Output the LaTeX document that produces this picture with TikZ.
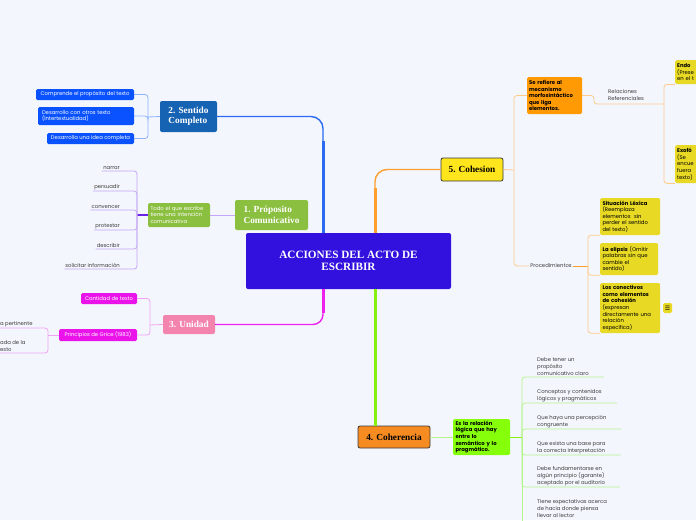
\documentclass[tikz,border=0pt]{standalone}
\usepackage{fontspec}
\setmainfont{Liberation Serif}
\newfontfamily\popfont{Poppins}
\newfontfamily\symfont{DejaVu Sans}
\usetikzlibrary{calc}

\definecolor{bgcol}{HTML}{F3F6FD}
\definecolor{ctrblue}{HTML}{3210DE}
\definecolor{sentblue}{HTML}{1763B3}
\definecolor{boxblue}{HTML}{0A52FF}
\definecolor{bluelink}{HTML}{2B6BF2}
\definecolor{lblue}{HTML}{8FB2FF}
\definecolor{propgreen}{HTML}{8BBF40}
\definecolor{lpurple}{HTML}{C4A6F7}
\definecolor{dpurple}{HTML}{6A22E6}
\definecolor{pinkbox}{HTML}{F384AD}
\definecolor{magbox}{HTML}{EA14EA}
\definecolor{maglink}{HTML}{EE22EE}
\definecolor{lmag}{HTML}{F2A2F2}
\definecolor{cohyellow}{HTML}{FFE51C}
\definecolor{darkline}{HTML}{3A3A3A}
\definecolor{orangebox}{HTML}{FF9A05}
\definecolor{orlink}{HTML}{FF9F2E}
\definecolor{lorange}{HTML}{FFCB8A}
\definecolor{yellowbox}{HTML}{E8DA24}
\definecolor{coherorange}{HTML}{F68B22}
\definecolor{limebox}{HTML}{86FF0A}
\definecolor{limelink}{HTML}{88F010}
\definecolor{llime}{HTML}{B5F58A}
\definecolor{leafgray}{HTML}{3C3C3C}

\tikzset{
  topic/.style={rounded corners=2pt, font=\bfseries\fontsize{9.3}{10.5}\selectfont,
    text=white, align=left, inner sep=0pt},
  subbox/.style={rounded corners=1.5pt, font=\popfont\fontsize{5.3}{6.6}\selectfont,
    align=left, inner sep=0pt},
  leaf/.style={font=\popfont\fontsize{5.3}{7}\selectfont, text=leafgray,
    align=left, inner sep=1pt},
  thin link/.style={line width=0.8pt, rounded corners=3pt}
}

\begin{document}
\begin{tikzpicture}[x=1pt,y=-1pt]
\useasboundingbox (0,0) rectangle (696,520);
\fill[bgcol] (0,0) rectangle (696,520);

% centro
\node[topic, fill=ctrblue, minimum width=205pt, minimum height=56pt, align=center,
  font=\bfseries\fontsize{11.2}{12.5}\selectfont] (ctr) at (348.5,261)
  {ACCIONES DEL ACTO DE\\ESCRIBIR};

% 2. Sentido Completo
\node[topic, fill=sentblue, minimum width=57pt, minimum height=31pt] (sent) at (188.5,116.5)
  {2. Sentido\\Completo};
\draw[bluelink, line width=1.4pt, rounded corners=12pt] ([xshift=-25.5pt]ctr.north) |- (sent.east);
\draw[bluelink, line width=3pt] ([xshift=-25.5pt]ctr.north) -- ++(0,-92);
\node[subbox, fill=boxblue, text=white, minimum width=98pt, minimum height=11pt] (comp) at (85,94.5)
  {Comprende el propósito del texto};
\node[subbox, fill=boxblue, text=white, minimum width=96pt, minimum height=18pt, text width=88pt] (desa) at (86,116)
  {Desarrollo con otros texto\\(Intertextualidad)};
\node[subbox, fill=boxblue, text=white, minimum width=87pt, minimum height=11pt] (idea) at (90.5,138.5)
  {Desarrolla una idea completa};
\coordinate (senthub) at (148,117);
\draw[lblue, thin link] (sent.west) -- (senthub);
\foreach \n in {comp,desa,idea}
  \draw[lblue, thin link] (senthub) |- (\n.east);

% 1. Proposito Comunicativo
\node[topic, fill=propgreen, minimum width=73pt, minimum height=30pt] (prop) at (271.5,215)
  {1. Próposito\\Comunicativo};
\node[subbox, fill=propgreen, text=white, minimum width=62pt, minimum height=24pt, text width=57pt] (todo) at (179,215)
  {Todo el que escribe\\tiene una intención\\comunicativa};
\draw[lpurple, line width=1pt] (prop.west) -- (todo.east);
\coordinate (prophub) at (137,215);
\draw[dpurple, line width=1.3pt] (todo.west) -- (prophub);
\node[leaf, anchor=south east] (narrar) at (121,171) {narrar};
\node[leaf, anchor=south east] (persu) at (121,191) {persuadir};
\node[leaf, anchor=south east] (conv) at (121,210) {convencer};
\node[leaf, anchor=south east] (prot) at (121,230) {protestar};
\node[leaf, anchor=south east] (desc) at (121,249) {describir};
\node[leaf, anchor=south east] (soli) at (121,269) {solicitar información};
\foreach \n in {narrar,persu,conv,prot,desc,soli}
  \draw[lpurple, thin link] (prophub) -- ([xshift=16pt]\n.south east) -- (\n.south west);

% 3. Unidad
\node[topic, fill=pinkbox, minimum width=52pt, minimum height=19pt] (unid) at (189,324.5) {3. Unidad};
\draw[maglink, line width=1.4pt, rounded corners=10pt] ([xshift=-25.5pt]ctr.south) |- (unid.east);
\draw[maglink, line width=3pt] ([xshift=-25.5pt]ctr.south) -- ++(0,24);
\node[subbox, fill=magbox, text=white, minimum width=56pt, minimum height=11pt] (cant) at (109,298.5)
  {Cantidad de texto};
\node[subbox, fill=magbox, text=white, minimum width=78pt, minimum height=12pt] (grice) at (98,335)
  {Principios de Grice (1983)};
\coordinate (unidhub) at (150,325);
\draw[lmag, thin link] (unid.west) -- (unidhub);
\foreach \n in {cant,grice}
  \draw[lmag, thin link] (unidhub) |- (\n.east);
\coordinate (gricehub) at (48,335);
\draw[lmag, thin link] (grice.west) -- (gricehub);
\node[leaf, anchor=south west] (gr1) at (-1,328) {a pertinente};
\node[leaf, anchor=south west] (gr2) at (-1,353) {ada de la\\esto};
\foreach \n in {gr1,gr2}
  \draw[lmag, thin link] (gricehub) |- (\n.south west);

% 5. Cohesion
\node[topic, fill=cohyellow, draw=darkline, line width=0.8pt, text=black, minimum width=62pt, minimum height=23pt,
  align=center] (coh) at (472,169.5) {5. Cohesion};
\draw[orlink, line width=1.4pt, rounded corners=12pt] ([xshift=26.5pt]ctr.north) |- (coh.west);
\draw[orlink, line width=3pt] ([xshift=26.5pt]ctr.north) -- ++(0,-45);
\coordinate (cohhub) at (514,170);
\draw[lorange, thin link] (coh.east) -- (cohhub);
\node[subbox, fill=orangebox, font=\popfont\bfseries\fontsize{5.3}{6.6}\selectfont, minimum width=55pt,
  minimum height=37pt, text width=51pt] (sere) at (554.5,95.5)
  {Se refiere al\\mecanismo\\morfosintáctico\\que liga\\elementos.};
\draw[lorange, thin link] (cohhub) |- (sere.west);
\node[leaf, anchor=south west] (rela) at (607,102) {Relaciones\\Referenciales};
\coordinate (relahub) at (664,104);
\draw[lorange, thin link] (sere.east) -- (594,95.5) -- (594,104) -- (relahub);
\node[subbox, fill=yellowbox, anchor=north west, minimum width=40pt, minimum height=24pt,
  text width=36pt] (endo) at (675,60) {\textbf{Endo}\\(Prese\\en el t};
\node[subbox, fill=yellowbox, anchor=north west, minimum width=40pt, minimum height=38pt,
  text width=36pt] (exo) at (675,145) {\textbf{Exofó}\\(Se\\encue\\fuera\\texto)};
\foreach \n in {endo,exo}
  \draw[lorange, thin link] (relahub) |- (\n.south west);

\node[leaf, fill=bgcol] (proc) at (551,266) {Procedimientos};
\draw[lorange, thin link] (cohhub) |- (proc.west);
\coordinate (prochub) at (588,266);
\draw[orlink, line width=0.8pt] (proc.east) -- (prochub);
\node[subbox, fill=yellowbox, minimum width=60pt, minimum height=37pt, text width=55pt] (situ) at (630,216.5)
  {\textbf{Situación Léxica}\\(Reemplaza\\elementos\ \ sin\\perder el sentido\\del texto)};
\node[subbox, fill=yellowbox, minimum width=58pt, minimum height=32pt, text width=53pt] (elip) at (629,259)
  {\textbf{La elipsis} (Omitir\\palabras sin que\\cambie el\\sentido)};
\node[subbox, fill=yellowbox, minimum width=60pt, minimum height=50pt, text width=55pt] (conec) at (630,308)
  {\textbf{Los conectivos}\\\textbf{como elementos}\\\textbf{de cohesión}\\(expresan\\directamente una\\relación\\específica)};
\node[subbox, fill=yellowbox, minimum width=9pt, minimum height=10pt, font=\symfont\fontsize{6}{6}\selectfont]
  (nota) at (667.5,308) {☰};
\foreach \n in {situ,elip,conec}
  \draw[lorange, thin link] (prochub) |- (\n.south west);

% 4. Coherencia
\node[topic, fill=coherorange, draw=darkline, line width=0.8pt, text=black, minimum width=72pt, minimum height=22pt,
  align=center] (coher) at (394,437) {4. Coherencia};
\draw[limelink, line width=3pt] ([xshift=26.5pt]ctr.south) -- ([xshift=26.5pt]ctr.south |- coher.north);
\node[subbox, fill=limebox, font=\popfont\bfseries\fontsize{5.3}{6.6}\selectfont, minimum width=57pt,
  minimum height=36pt, text width=52pt] (esla) at (481.5,437)
  {Es la relación\\lógica que hay\\entre lo\\semántico y lo\\pragmático.};
\draw[llime, line width=1pt] (coher.east) -- (esla.west);
\coordinate (eslahub) at (522,437);
\draw[limelink, line width=1pt] (esla.east) -- (eslahub);
\node[leaf, anchor=south west] (co1) at (536,377) {Debe tener un\\propósito\\comunicativo claro};
\node[leaf, anchor=south west] (co2) at (536,403) {Conceptos y contenidos\\lógicos y pragmáticos};
\node[leaf, anchor=south west] (co3) at (536,429) {Que haya una percepción\\congruente};
\node[leaf, anchor=south west] (co4) at (536,455) {Que exista una base para\\la correcta interpretación};
\node[leaf, anchor=south west] (co5) at (536,487) {Debe fundamentarse en\\algún principio (garante)\\aceptado por el auditorio};
\node[leaf, anchor=south west] (co6) at (536,519) {Tiene expectativas acerca\\de hacia donde piensa\\llevar al lector};
\foreach \n in {co1,co2,co3,co4,co5}
  \draw[llime, thin link] (eslahub) |- ([xshift=14pt]\n.south east);
\draw[llime, thin link] (eslahub) -- (522,524);
\end{tikzpicture}
\end{document}
